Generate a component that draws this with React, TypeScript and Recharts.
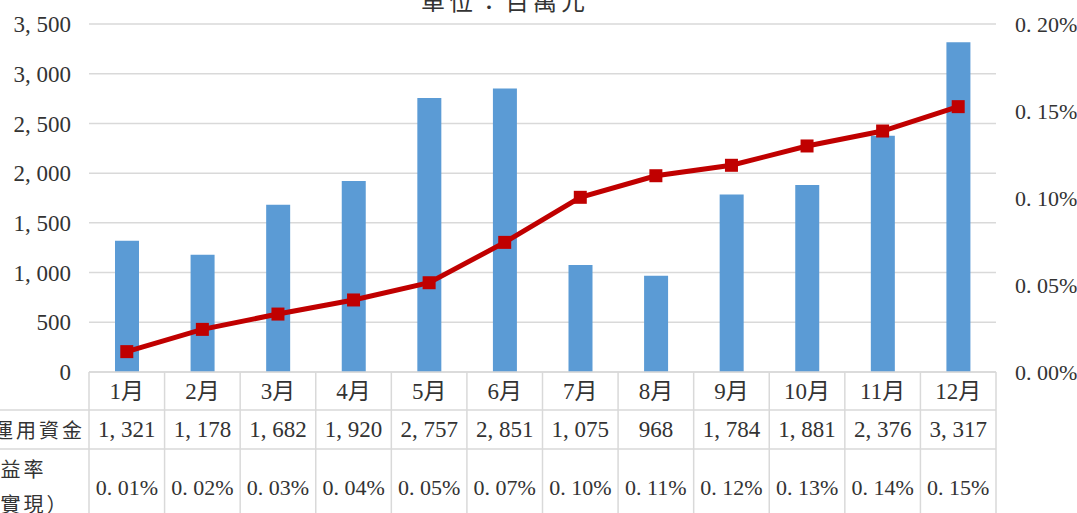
import { ComposedChart, Bar, Line, XAxis, YAxis, CartesianGrid } from "recharts";

// 單位：百萬元
const months = ["1月", "2月", "3月", "4月", "5月", "6月", "7月", "8月", "9月", "10月", "11月", "12月"];
const funds = [1321, 1178, 1682, 1920, 2757, 2851, 1075, 968, 1784, 1881, 2376, 3317];
// 收益率（未實現）, in percent
const rates = [0.0117, 0.0245, 0.0333, 0.0414, 0.0513, 0.0745, 0.1004, 0.1128, 0.1188, 0.1299, 0.1385, 0.1525];
const fundTicks = [0, 500, 1000, 1500, 2000, 2500, 3000, 3500];
const rateTicks = [0, 0.05, 0.1, 0.15, 0.2];
const rowLabels = ["運用資金", "收益率", "（未實現）"];

const data = months.map((m, i) => ({ month: m, fund: funds[i], rate: rates[i] }));

const W = 1077, H = 530;
const LEFT_W = 89, RIGHT_W = 81;
const BAND = (W - LEFT_W - RIGHT_W) / months.length;
const ROW_H = [38, 39, 76];

const GRID = "#d9d9d9";
const TEXT = "#333333";
const NUM_FONT = "'Liberation Serif', 'Noto Sans CJK TC', serif";
const CJK_FONT = "'Noto Sans CJK TC', sans-serif";

// wide comma / dot like the original font
const fmtFund = (v: number) => v.toLocaleString("en-US").replace(",", ", ");
const fmtRate = (v: number) => `${v.toFixed(2).replace(".", ". ")}%`;

const TableTick = ({ x, y, index }: any) => {
  const l = x - BAND / 2, r = x + BAND / 2;
  const y1 = y + ROW_H[0], y2 = y1 + ROW_H[1], y3 = y2 + ROW_H[2];
  const last = index === months.length - 1;
  return (
    <g>
      <line x1={l} x2={l} y1={y} y2={y3} stroke={GRID} strokeWidth={1.5} />
      {last && <line x1={r} x2={r} y1={y} y2={y3} stroke={GRID} strokeWidth={1.5} />}
      {[y1, y2, y3].map((yy) => (
        <line key={yy} x1={index === 0 ? -40 : l} x2={r} y1={yy} y2={yy} stroke={GRID} strokeWidth={1.5} />
      ))}
      <text x={x} y={y + ROW_H[0] / 2} textAnchor="middle" dominantBaseline="central" fill={TEXT} fontSize={23} fontFamily={NUM_FONT}>
        {months[index]}
      </text>
      <text x={x} y={y1 + ROW_H[1] / 2} textAnchor="middle" dominantBaseline="central" fill={TEXT} fontSize={23} fontFamily={NUM_FONT}>
        {fmtFund(funds[index])}
      </text>
      <text x={x} y={y2 + ROW_H[2] / 2} textAnchor="middle" dominantBaseline="central" fill={TEXT} fontSize={22} fontFamily={NUM_FONT}>
        {fmtRate(rates[index])}
      </text>
      {index === 0 && (
        <g fill={TEXT} fontSize={20} fontFamily={CJK_FONT} letterSpacing={3}>
          <text x={l - 4} y={y1 + ROW_H[1] / 2} textAnchor="end" dominantBaseline="central">{rowLabels[0]}</text>
          <text x={12} y={y2 + 19} textAnchor="middle" dominantBaseline="central">{rowLabels[1]}</text>
          <text x={12} y={y2 + 54} textAnchor="middle" dominantBaseline="central">{rowLabels[2]}</text>
        </g>
      )}
    </g>
  );
};

const SquareDot = ({ cx, cy }: any) => (
  <rect x={cx - 6.5} y={cy - 6.5} width={13} height={13} fill="#C00000" />
);

export default function App() {
  return (
    <div style={{ position: "fixed", left: 0, top: 0, width: W, height: 513, overflow: "hidden", background: "#fff" }}>
      <ComposedChart width={W} height={H} data={data} margin={{ top: 24, right: 0, bottom: 0, left: 0 }}>
        <CartesianGrid yAxisId="left" vertical={false} stroke={GRID} strokeWidth={1.5} />
        <XAxis
          dataKey="month"
          height={H - 372}
          interval={0}
          tickLine={false}
          tickSize={0}
          tickMargin={0}
          axisLine={{ stroke: GRID, strokeWidth: 1.5 }}
          tick={<TableTick />}
        />
        <YAxis
          yAxisId="left"
          width={LEFT_W}
          domain={[0, 3500]}
          ticks={fundTicks}
          tickFormatter={fmtFund}
          axisLine={false}
          tickLine={false}
          tickSize={0}
          tickMargin={18}
          tick={{ fill: TEXT, fontSize: 23, fontFamily: NUM_FONT }}
        />
        <YAxis
          yAxisId="right"
          orientation="right"
          width={RIGHT_W}
          domain={[0, 0.2]}
          ticks={rateTicks}
          tickFormatter={fmtRate}
          axisLine={false}
          tickLine={false}
          tickSize={0}
          tickMargin={19}
          tick={{ fill: TEXT, fontSize: 22, fontFamily: NUM_FONT, textAnchor: "start" }}
        />
        <Bar yAxisId="left" dataKey="fund" fill="#5B9BD5" barSize={24} isAnimationActive={false} />
        <Line
          yAxisId="right"
          dataKey="rate"
          stroke="#C00000"
          strokeWidth={5}
          dot={<SquareDot />}
          activeDot={false}
          isAnimationActive={false}
        />
      </ComposedChart>
      <svg width={W} height={30} style={{ position: "absolute", left: 0, top: 0 }}>
        <text x={505} y={10} textAnchor="middle" fill={TEXT} fontSize={24} fontFamily={CJK_FONT} letterSpacing={4}>
          單位：百萬元
        </text>
      </svg>
    </div>
  );
}
